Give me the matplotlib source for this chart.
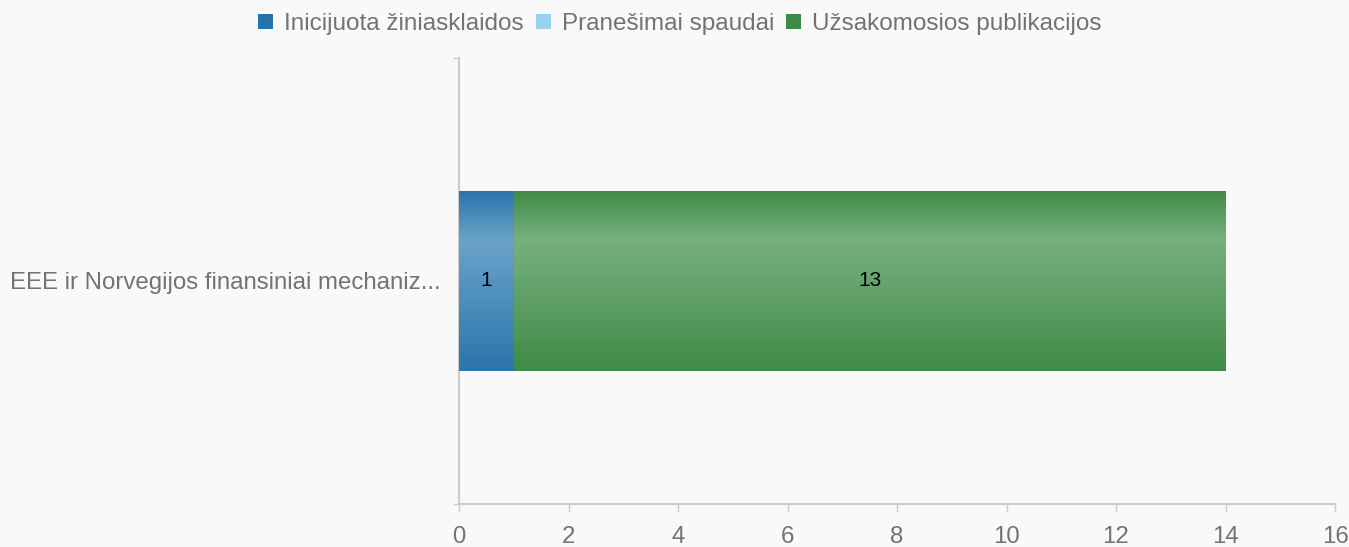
import matplotlib
matplotlib.use("Agg")
import matplotlib.pyplot as plt
import numpy as np
from matplotlib.patches import Patch
from matplotlib.colors import LinearSegmentedColormap

plt.rcParams['font.family'] = ['Liberation Sans', 'DejaVu Sans']

categories = ["EEE ir Norvegijos finansiniai mechaniz..."]
series_names = ["Inicijuota žiniasklaidos", "Pranešimai spaudai", "Užsakomosios publikacijos"]
values = {
    "Inicijuota žiniasklaidos": [1],
    "Pranešimai spaudai": [0],
    "Užsakomosios publikacijos": [13],
}
legend_colors = ["#2374ad", "#9ccfee", "#3b8b45"]
edge_colors = ["#2a75ad", "#8ec3e6", "#3f8b48"]
mid_colors = ["#6ba3c8", "#c0e0f4", "#78b07e"]
xticks = [0, 2, 4, 6, 8, 10, 12, 14, 16]

W, H = 1349, 547
fig = plt.figure(figsize=(W / 100, H / 100), dpi=100)
bg = "#f9f9f9"
fig.patch.set_facecolor(bg)
ax = fig.add_axes([459 / W, (H - 504) / H, (1335 - 459) / W, (504 - 58) / H])
ax.set_facecolor(bg)

y = np.arange(len(categories))
left = np.zeros(len(categories))
bar_h = 180 / 446
for i, name in enumerate(series_names):
    vals = np.array(values[name], dtype=float)
    bars = ax.barh(y, vals, left=left, height=bar_h, color=edge_colors[i], edgecolor="none", zorder=2)
    cmap = LinearSegmentedColormap.from_list(
        "g%d" % i, [(0, edge_colors[i]), (0.73, mid_colors[i]), (1, edge_colors[i])])
    grad = np.linspace(0, 1, 256).reshape(-1, 1)
    for b, v in zip(bars, vals):
        if v <= 0:
            continue
        x0, y0 = b.get_x(), b.get_y()
        w, h = b.get_width(), b.get_height()
        im = ax.imshow(grad, cmap=cmap, aspect="auto", extent=(x0, x0 + w, y0 + h, y0),
                       origin="upper", zorder=3, interpolation="bicubic")
        im.set_clip_path(b)
        ax.text(x0 + w / 2, y0 + h / 2, "%d" % v, ha="center", va="center",
                fontsize=15, color="#000000", zorder=5)
    left = left + vals

ax.set_xlim(0, 16)
ax.set_ylim(-0.5, 0.5)
ax.set_xticks(xticks)
ax.set_xticklabels([str(t) for t in xticks])
ax.tick_params(axis="x", direction="out", length=5.8, width=1.0, color="#cccccc",
               labelsize=17.3, labelcolor="#737373", pad=10)
ax.set_yticks([0])
ax.set_yticklabels(categories)
ax.set_yticks([-0.5, 0.5], minor=True)
ax.tick_params(axis="y", which="major", length=0, labelsize=17.3, labelcolor="#737373", pad=13)
ax.tick_params(axis="y", which="minor", direction="out", length=4.5, width=1.0, color="#cccccc")
for s in ["top", "right"]:
    ax.spines[s].set_visible(False)
for s in ["left", "bottom"]:
    ax.spines[s].set_color("#cccccc")
    ax.spines[s].set_linewidth(1.5)

handles = [Patch(facecolor=c, edgecolor="none") for c in legend_colors]
fig.legend(handles, series_names, loc="center", bbox_to_anchor=(680 / W, 1 - 24 / H),
           ncol=3, frameon=False, fontsize=17.5, labelcolor="#737373",
           handlelength=0.62, handleheight=0.62, handletextpad=0.45, columnspacing=0.5)

fig.savefig("out.png", dpi=100, facecolor=bg)
